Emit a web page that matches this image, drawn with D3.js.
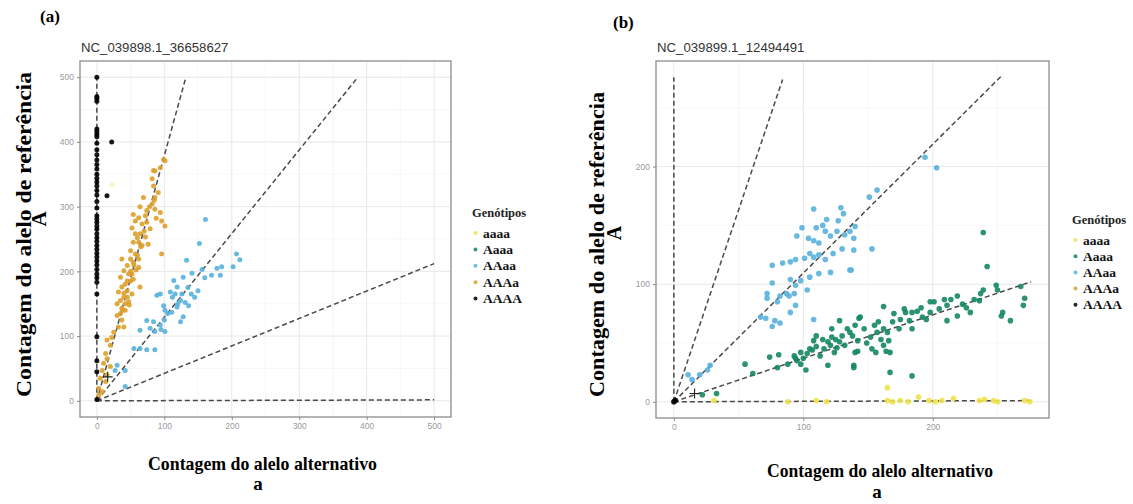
<!DOCTYPE html>
<html>
<head>
<meta charset="utf-8">
<script src="https://cdn.jsdelivr.net/npm/d3@7"></script>
<style>
  body { margin: 0; background: #fff; }
  svg { display: block; }
</style>
</head>
<body>
<svg id="chart" width="1133" height="504"></svg>
<script>
// genotype classes and colours
const genotypes = ["aaaa", "Aaaa", "AAaa", "AAAa", "AAAA"];
const genoColors = ["#eee24a", "#14875f", "#58b0dc", "#dca02a", "#000000"];

// panel (a) NC_039898.1_36658627 : [alt count, ref count]
const a_AAAA_y = [500, 470, 467, 463, 420, 416, 412, 408, 398, 388, 380, 372, 365, 358, 350, 344, 338,
  332, 325, 318, 308, 298, 286, 281, 276, 270, 265, 258, 252, 246, 240, 234, 228, 222, 216, 210, 203,
  196, 190, 183, 165, 99, 62, 45, 2];
const a_AAAA_off = [[22, 400], [15, 317]];
const a_aaaa = [[23, 334]];
const a_AAAa = [
  [99, 373], [94, 360], [86, 355], [84, 332], [82, 343], [91, 322], [86, 314], [69, 314], [64, 300],
  [74, 294], [82, 304], [86, 296], [94, 291], [96, 278], [101, 270], [54, 288], [57, 278], [62, 283],
  [67, 273], [74, 276], [79, 266], [52, 267], [57, 258], [64, 258], [72, 253], [76, 242], [67, 240],
  [62, 245], [54, 245], [50, 232], [57, 227], [62, 219], [54, 214], [50, 219], [37, 219], [96, 227],
  [45, 209], [40, 201], [47, 196], [52, 196], [54, 188], [45, 185], [35, 191], [37, 176], [64, 176],
  [32, 168], [40, 166], [45, 160], [35, 155], [30, 150], [42, 150], [47, 153], [37, 143], [42, 140],
  [35, 135], [30, 132], [37, 125], [40, 114], [32, 114], [25, 106], [22, 98], [15, 94], [20, 86],
  [13, 73], [15, 65], [10, 58], [20, 53], [8, 47], [15, 40], [5, 35], [13, 30], [3, 19], [8, 14],
  [3, 9], [50, 200], [55, 210], [60, 225], [45, 170], [40, 160], [48, 148], [52, 165], [58, 202],
  [65, 238], [70, 262], [72, 286], [78, 300], [85, 310], [88, 282], [60, 252], [42, 180], [38, 140],
  [50, 185], [62, 206], [101, 371], [84, 356]
];
const a_AAaa = [
  [152, 243], [207, 227], [212, 218], [202, 207], [185, 207], [178, 205], [170, 194], [183, 194],
  [156, 203], [133, 217], [141, 197], [128, 191], [114, 186], [119, 176], [109, 168], [116, 165],
  [126, 165], [124, 155], [131, 152], [136, 147], [119, 145], [111, 137], [128, 130], [124, 122],
  [89, 163], [94, 165], [99, 147], [101, 140], [74, 124], [84, 122], [79, 112], [94, 117], [101, 107],
  [86, 107], [64, 109], [55, 81], [64, 81], [74, 79], [86, 79], [30, 55], [27, 47], [42, 47], [42, 22],
  [161, 280], [145, 160], [150, 170], [140, 165], [160, 190], [135, 175], [120, 150], [105, 135],
  [112, 160], [95, 110], [100, 125]
];
const a_cross = [[16, 37]];
// dashed guide lines per genotype, from origin to end point
const a_lineEnds = [[500, 1.5], [500, 212], [387, 500], [132, 500], [0, 500]];

// panel (b) NC_039899.1_12494491
const b_AAAA = [[1, 1], [0, 0]];
const b_aaaa = [
  [31, 1], [88, 0], [110, 1], [118, 0], [165, 1], [169, 0], [175, 1], [181, 0], [189, 4], [197, 1],
  [202, 0], [207, 1], [216, 3], [236, 1], [240, 2], [247, 1], [250, 0], [271, 1], [275, 0], [165, 12]
];
const b_Aaaa = [
  [22, 6], [33, 7], [55, 32], [61, 24], [74, 38], [81, 40], [80, 29], [88, 32], [93, 39], [95, 35],
  [98, 32], [102, 27], [103, 41], [107, 44], [110, 47], [113, 39], [116, 45], [119, 51], [121, 48],
  [125, 53], [128, 51], [130, 56], [124, 42], [119, 31], [128, 69], [134, 62], [138, 56], [139, 31],
  [143, 71], [142, 43], [110, 56], [115, 53], [122, 62], [122, 55], [105, 45], [98, 42], [94, 37],
  [136, 59], [140, 65], [144, 72], [142, 52], [140, 42], [139, 29], [147, 62], [149, 50], [152, 55],
  [153, 45], [156, 42], [155, 65], [157, 59], [158, 68], [162, 62], [160, 53], [162, 48], [164, 43],
  [165, 59], [166, 52], [167, 42], [169, 68], [162, 81], [170, 75], [174, 62], [175, 70], [178, 79],
  [179, 76], [182, 69], [184, 62], [184, 76], [188, 77], [191, 80], [192, 72], [195, 70], [198, 76],
  [201, 85], [205, 79], [211, 69], [211, 82], [219, 90], [219, 73], [226, 80], [232, 87], [236, 86],
  [237, 92], [239, 95], [239, 144], [242, 115], [249, 99], [250, 95], [254, 76], [253, 73], [260, 69],
  [268, 98], [271, 88], [270, 82], [184, 22], [167, 25], [198, 85], [209, 87], [214, 87], [229, 76],
  [223, 83], [100, 37], [108, 52], [126, 46], [132, 48]
];
const b_AAaa = [
  [194, 208], [203, 199], [151, 174], [157, 180], [140, 149], [139, 129], [153, 130], [136, 112],
  [76, 116], [84, 118], [90, 119], [94, 121], [101, 122], [105, 126], [108, 123], [112, 125],
  [117, 121], [123, 126], [130, 130], [137, 112], [121, 110], [112, 109], [105, 106], [98, 103],
  [103, 95], [94, 99], [90, 104], [87, 92], [89, 90], [93, 92], [82, 90], [76, 101], [72, 92],
  [72, 88], [80, 85], [94, 82], [90, 76], [67, 72], [71, 71], [78, 69], [82, 67], [76, 64], [108, 70],
  [28, 31], [26, 27], [20, 23], [11, 23], [14, 19], [108, 164], [129, 165], [131, 160], [127, 154],
  [99, 148], [95, 141], [104, 139], [108, 137], [117, 145], [121, 141], [126, 145], [132, 142],
  [136, 145], [139, 139], [112, 135], [115, 150], [118, 155], [110, 148]
];
const b_cross = [[16, 7]];
const b_lineEnds = [[276, 1], [276, 102], [253, 277], [84, 274], [0, 276]];

const svg = d3.select("#chart");
const serif = "'Liberation Serif', 'Times New Roman', serif";
const sans = "'Liberation Sans', Arial, sans-serif";

function drawPanel(p) {
  const x = d3.scaleLinear().domain(p.domain).range([p.left, p.right]);
  const y = d3.scaleLinear().domain(p.domain).range([p.bottom, p.top]);
  const g = svg.append("g");

  // grid (minor then major)
  g.selectAll(".minx").data(p.minor).join("line")
    .attr("x1", d => x(d)).attr("x2", d => x(d)).attr("y1", p.top).attr("y2", p.bottom)
    .attr("stroke", "#f1f1f1").attr("stroke-width", 0.6);
  g.selectAll(".miny").data(p.minor).join("line")
    .attr("y1", d => y(d)).attr("y2", d => y(d)).attr("x1", p.left).attr("x2", p.right)
    .attr("stroke", "#f1f1f1").attr("stroke-width", 0.6);
  g.selectAll(".majx").data(p.ticks).join("line")
    .attr("x1", d => x(d)).attr("x2", d => x(d)).attr("y1", p.top).attr("y2", p.bottom)
    .attr("stroke", "#e8e8e8").attr("stroke-width", 1);
  g.selectAll(".majy").data(p.ticks).join("line")
    .attr("y1", d => y(d)).attr("y2", d => y(d)).attr("x1", p.left).attr("x2", p.right)
    .attr("stroke", "#e8e8e8").attr("stroke-width", 1);

  // axes
  const xAxis = g.append("g").attr("transform", `translate(0,${p.bottom})`)
    .call(d3.axisBottom(x).tickValues(p.ticks).tickSize(3).tickPadding(3));
  const yAxis = g.append("g").attr("transform", `translate(${p.left},0)`)
    .call(d3.axisLeft(y).tickValues(p.ticks).tickSize(3).tickPadding(3));
  [xAxis, yAxis].forEach(ax => {
    ax.select(".domain").remove();
    ax.selectAll("line").attr("stroke", "#8a8a8a");
    ax.selectAll("text").attr("fill", "#9a9a9a").style("font-family", sans).style("font-size", "8.5px");
  });

  // dashed expected-ratio lines
  g.selectAll(".guide").data(p.lineEnds).join("line")
    .attr("x1", x(0)).attr("y1", y(0))
    .attr("x2", d => x(d[0])).attr("y2", d => y(d[1]))
    .attr("stroke", "#4a4a4a").attr("stroke-width", 1.5).attr("stroke-dasharray", "5,3");

  // points
  p.series.forEach(s => {
    const col = genoColors[genotypes.indexOf(s.geno)];
    g.append("g").selectAll("circle").data(s.pts).join("circle")
      .attr("cx", d => x(d[0])).attr("cy", d => y(d[1]))
      .attr("r", p.r).attr("fill", col).attr("fill-opacity", s.alpha || 0.9);
  });

  // cross markers
  const cs = 5;
  p.cross.forEach(d => {
    g.append("path")
      .attr("d", `M${x(d[0]) - cs},${y(d[1])}H${x(d[0]) + cs}M${x(d[0])},${y(d[1]) - cs}V${y(d[1]) + cs}`)
      .attr("stroke", "#222").attr("stroke-width", 1.1);
  });

  // panel border
  g.append("rect").attr("x", p.left).attr("y", p.top)
    .attr("width", p.right - p.left).attr("height", p.bottom - p.top)
    .attr("fill", "none").attr("stroke", "#8c8c8c").attr("stroke-width", 1.3);

  // title
  svg.append("text").attr("x", p.left + 1).attr("y", p.top - 9)
    .style("font-family", sans).style("font-size", "13.2px").attr("fill", "#333")
    .text(p.title);
  svg.append("text").attr("x", p.tag[0]).attr("y", p.tag[1])
    .style("font-family", serif).style("font-size", "17px").style("font-weight", "bold")
    .text(p.tagText);

  // axis titles
  const xl = p.xlab;
  svg.append("text").attr("x", xl.x).attr("y", xl.y)
    .attr("textLength", xl.len).attr("lengthAdjust", "spacingAndGlyphs")
    .style("font-family", serif).style("font-size", xl.size + "px").style("font-weight", "bold")
    .text("Contagem do alelo alternativo");
  svg.append("text").attr("x", xl.ax).attr("y", xl.ay).attr("text-anchor", "middle")
    .style("font-family", serif).style("font-size", xl.size + "px").style("font-weight", "bold")
    .text("a");
  const yl = p.ylab;
  svg.append("text").attr("transform", `translate(${yl.x},${yl.y}) rotate(-90)`)
    .attr("textLength", yl.len).attr("lengthAdjust", "spacingAndGlyphs")
    .style("font-family", serif).style("font-size", yl.size + "px").style("font-weight", "bold")
    .text("Contagem do alelo de referência");
  svg.append("text").attr("transform", `translate(${yl.ax},${yl.ay}) rotate(-90)`)
    .attr("text-anchor", "middle")
    .style("font-family", serif).style("font-size", yl.size + "px").style("font-weight", "bold")
    .text("A");

  // legend
  const lg = p.legend;
  svg.append("text").attr("x", lg.x).attr("y", lg.y)
    .style("font-family", serif).style("font-size", "12.5px").style("font-weight", "bold")
    .attr("fill", "#222").text("Genótipos");
  genotypes.forEach((k, i) => {
    const cy = lg.y + 16 + i * lg.step;
    svg.append("circle").attr("cx", lg.x + 3.5).attr("cy", cy).attr("r", 2)
      .attr("fill", genoColors[i]).attr("fill-opacity", 0.85);
    svg.append("text").attr("x", lg.x + 11).attr("y", cy + 4.5)
      .style("font-family", serif).style("font-size", "13.5px").style("font-weight", "bold")
      .attr("fill", "#111").text(k);
  });
}

drawPanel({
  left: 80, right: 451, top: 61, bottom: 417, domain: [-25, 525],
  ticks: [0, 100, 200, 300, 400, 500], minor: [50, 150, 250, 350, 450], r: 2.5,
  title: "NC_039898.1_36658627", tag: [40, 22], tagText: "(a)",
  lineEnds: a_lineEnds,
  series: [
    { geno: "AAAA", pts: a_AAAA_y.map(v => [0, v]).concat(a_AAAA_off) },
    { geno: "AAaa", pts: a_AAaa },
    { geno: "AAAa", pts: a_AAAa },
    { geno: "aaaa", pts: a_aaaa, alpha: 0.35 }
  ],
  cross: a_cross,
  xlab: { x: 148, y: 470, len: 229, size: 19, ax: 258, ay: 490 },
  ylab: { x: 31, y: 397, len: 325, size: 21, ax: 46, ay: 219 },
  legend: { x: 472, y: 217, step: 16.4 }
});

drawPanel({
  left: 656, right: 1049, top: 61, bottom: 418, domain: [-13.8, 289.8],
  ticks: [0, 100, 200], minor: [50, 150, 250], r: 2.8,
  title: "NC_039899.1_12494491", tag: [613, 28], tagText: "(b)",
  lineEnds: b_lineEnds,
  series: [
    { geno: "AAAA", pts: b_AAAA },
    { geno: "aaaa", pts: b_aaaa },
    { geno: "Aaaa", pts: b_Aaaa },
    { geno: "AAaa", pts: b_AAaa }
  ],
  cross: b_cross,
  xlab: { x: 767, y: 477, len: 226, size: 19, ax: 877, ay: 498 },
  ylab: { x: 604, y: 397, len: 305, size: 20, ax: 621, ay: 233 },
  legend: { x: 1072, y: 224, step: 16.2 }
});
</script>
</body>
</html>
